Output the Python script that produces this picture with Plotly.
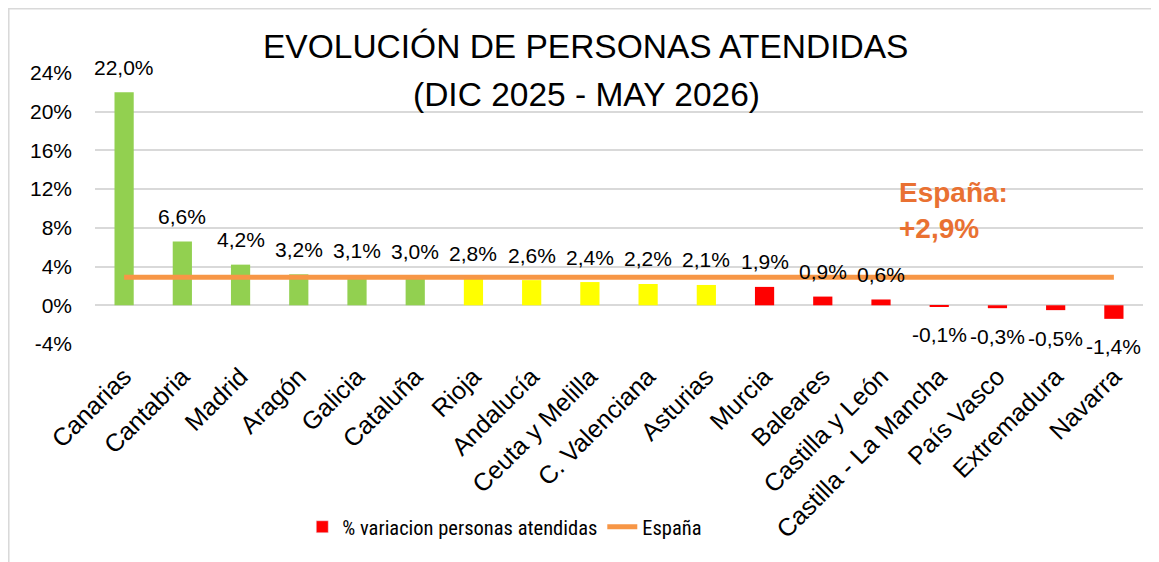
import plotly.graph_objects as go

categories = ["Canarias", "Cantabria", "Madrid", "Aragón", "Galicia", "Cataluña", "Rioja",
              "Andalucía", "Ceuta y Melilla", "C. Valenciana", "Asturias", "Murcia", "Baleares",
              "Castilla y León", "Castilla - La Mancha", "País Vasco", "Extremadura", "Navarra"]
variacion = [22.0, 6.6, 4.2, 3.2, 3.1, 3.0, 2.8, 2.6, 2.4, 2.2, 2.1, 1.9, 0.9, 0.6, -0.1, -0.3, -0.5, -1.4]
espana = 2.9
bar_colors = ["#92D050"] * 6 + ["#FFFF00"] * 5 + ["#FF0000"] * 7
y_ticks = [-4, 0, 4, 8, 12, 16, 20, 24]
y_tick_labels = ["-4%", "0%", "4%", "8%", "12%", "16%", "20%", "24%"]

FONT = "Liberation Sans, Arial, sans-serif"

fig = go.Figure()
fig.add_trace(go.Bar(
    x=categories, y=variacion, name="% variacion personas atendidas",
    marker=dict(color=bar_colors, line=dict(width=0)),
    cliponaxis=False, showlegend=False,
))
# legend entry for the bar series (red swatch as in the original)
fig.add_trace(go.Bar(
    x=[None], y=[None], name="% variacion personas atendidas",
    marker=dict(color="#FF0000"), showlegend=True,
))
fig.add_trace(go.Scatter(
    x=categories, y=[espana] * len(categories), name="España", mode="lines",
    line=dict(color="#F79646", width=5),
))

# data labels
for cat, val in zip(categories, variacion):
    fig.add_annotation(
        x=cat, y=val, xref="x", yref="y", xanchor="center", yanchor="middle",
        yshift=25 if val >= 0 else -28, showarrow=False,
        text=f"{val:.1f}%".replace(".", ","),
        font=dict(family=FONT, size=21, color="#000000"),
    )

fig.add_annotation(
    x=0.765, xref="paper", y=9.8, yref="y", xanchor="left", yanchor="middle", align="left",
    text="<b>España:<br>+2,9%</b>", showarrow=False,
    font=dict(family=FONT, size=28, color="#E97132"),
)
fig.add_annotation(
    x=0.4676, xref="paper", y=1.096, yref="paper", xanchor="center", yanchor="middle",
    text="EVOLUCIÓN DE PERSONAS ATENDIDAS", showarrow=False,
    font=dict(family=FONT, size=33.5, color="#000000"),
)
fig.add_annotation(
    x=0.469, xref="paper", y=0.919, yref="paper", xanchor="center", yanchor="middle",
    text="(DIC 2025 - MAY 2026)", showarrow=False,
    font=dict(family=FONT, size=33.5, color="#000000"),
)

fig.add_shape(type="rect", xref="paper", yref="paper", x0=-0.0825, x1=1.1, y0=-0.95, y1=1.238,
              line=dict(color="#D9D9D9", width=2), fillcolor="rgba(0,0,0,0)", layer="below")

fig.update_layout(
    width=1151, height=554,
    margin=dict(l=87, r=16, t=65, b=218),
    paper_bgcolor="white", plot_bgcolor="white",
    separators=",.",
    bargap=0.67, barmode="overlay",
    showlegend=True,
    legend=dict(orientation="h", x=0.391, xanchor="center", y=-0.675, yanchor="middle",
                font=dict(family="Liberation Sans Narrow, Roboto Condensed, Arial Narrow, sans-serif",
                          size=20.5, color="#000000"),
                bgcolor="rgba(0,0,0,0)"),
    font=dict(family=FONT, color="#000000"),
)
fig.update_xaxes(type="category", range=[-0.5, len(categories) - 0.5],
                 tickangle=-45, tickfont=dict(size=25, color="#000000"), showgrid=False,
                 showline=False, ticks="", automargin=False, ticklabelstandoff=12)
fig.update_yaxes(range=[-4, 24], tickvals=y_ticks, ticktext=y_tick_labels,
                 tickfont=dict(size=21, color="#000000"),
                 showgrid=True, gridcolor="#D9D9D9", gridwidth=1.5,
                 zeroline=True, zerolinecolor="#D9D9D9", zerolinewidth=1.5,
                 showline=False, ticklabelstandoff=22, automargin=False)

fig.write_html("out.html")
